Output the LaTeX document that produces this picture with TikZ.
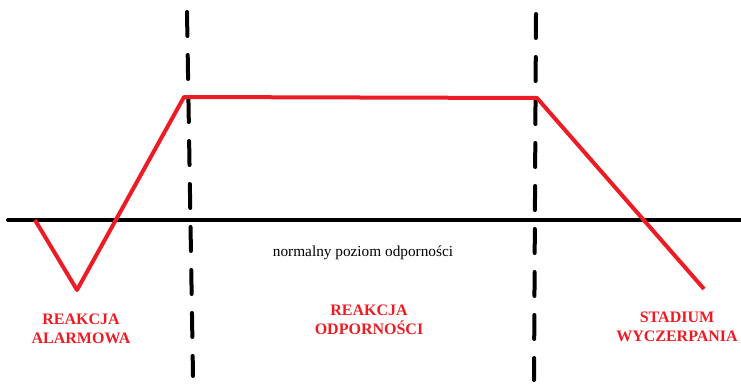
\documentclass[tikz,border=0pt]{standalone}
\usepackage{fontspec}
\setmainfont{Liberation Serif}
\definecolor{paintred}{RGB}{237,28,36}

\begin{document}
\begin{tikzpicture}[
		x=1pt, y=-1pt,
		level/.style={
				line width=4pt,
				line cap=round,
				draw=black,
			},
		border/.style={
				line width=4pt,
				line cap=round,
				draw=black,
				dash pattern=on 24pt off 19pt,
			},
		course/.style={
				line width=4pt,
				line join=round,
				draw=paintred,
			},
		stage/.style={
				text=paintred,
				font=\fontsize{16}{19.5}\selectfont\bfseries,
				align=center,
				inner sep=0pt,
			},
	]
	\useasboundingbox (0,0) rectangle (741,383);

	% normal level of resistance
	\coordinate (L) at (8,220);
	\coordinate (R) at (741,220);
	\draw[level] (L) -- (R);

	% phase borders
	\coordinate (A1) at (187,12);
	\coordinate (A2) at (193,376);
	\coordinate (B1) at (536,14);
	\coordinate (B2) at (534,380);
	\draw[border] (A1) -- (A2);
	\draw[border] (B1) -- (B2);

	% resistance course
	\coordinate (p0) at (35,220);
	\coordinate (p1) at (77,290);
	\coordinate (p2) at (184,97);
	\coordinate (p3) at (537,98);
	\coordinate (p4) at (704,289);
	\draw[course] (p0) -- (p1) -- (p2) -- (p3) -- (p4);

	\node[font=\fontsize{15.3}{18}\selectfont, inner sep=0pt] (normal) at (363,253) {normalny poziom odporności};
	\node[stage] (alarm) at (81,329) {REAKCJA\\ALARMOWA};
	\node[stage] (resist) at (369,320) {REAKCJA\\ODPORNOŚCI};
	\node[stage] (exhaust) at (677,327) {STADIUM\\WYCZERPANIA};
\end{tikzpicture}
\end{document}
